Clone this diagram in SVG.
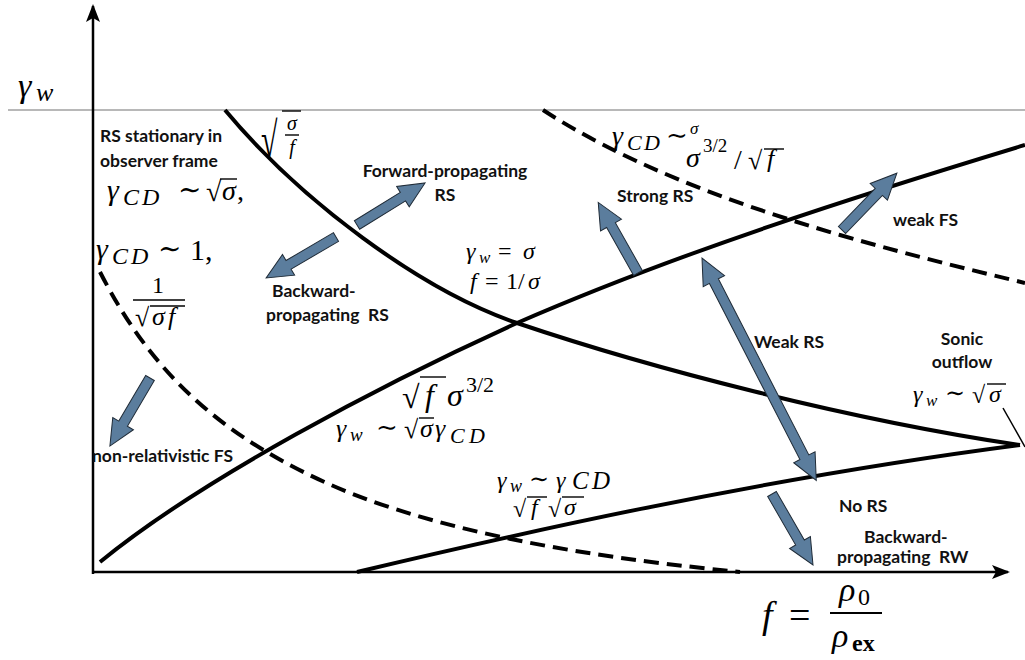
<svg xmlns="http://www.w3.org/2000/svg" width="1025" height="660" viewBox="0 0 1025 660">
<style>
.ax{stroke:#000;stroke-width:2.5;fill:none}
.cv{stroke:#000;stroke-width:4;fill:none}
.ds{stroke:#000;stroke-width:4;fill:none;stroke-dasharray:15 8}
.ba{fill:#5b7d9d;stroke:#1f2b37;stroke-width:1}
.lb{font-family:Lato,"Open Sans",sans-serif;font-weight:700;font-size:17.5px;fill:#111}
.m{font-family:"Liberation Serif","DejaVu Serif",serif;font-style:italic;fill:#000}
.u{font-family:"Liberation Serif","DejaVu Serif",serif;font-style:normal;fill:#000}
.ov{stroke:#000;stroke-width:1.4}
</style>
<defs>
<marker id="ah" markerWidth="18" markerHeight="14" refX="16" refY="7" orient="auto" markerUnits="userSpaceOnUse"><path d="M0,0 L18,7 L0,14 L4,7 Z" fill="#000"/></marker>
</defs>
<rect width="1025" height="660" fill="#fff"/>
<g id="axes">
<line x1="8" y1="110" x2="1025" y2="110" stroke="#a0a0a0" stroke-width="1.5"/>
<path class="ax" d="M93,574 V6" marker-end="url(#ah)"/>
<path class="ax" d="M92,572 H1008" marker-end="url(#ah)"/>
</g>
<g id="connectors">
<path class="cv" d="M225,110 C300,200 420,290 517,323 C650,368 850,420 1020,445"/>
<path class="cv" d="M100,562 C200,480 380,385 517,323 C680,252 860,195 1025,145"/>
<path class="cv" d="M357,572 C500,538 750,480 1020,445"/>
<path class="ds" d="M100,272 C150,370 220,440 350,493 C470,540 620,560 740,572"/>
<path class="ds" d="M543,110 C620,160 720,200 840,235 C920,258 980,272 1025,283"/>
<line x1="1003" y1="408" x2="1025" y2="447" stroke="#000" stroke-width="1.5"/>
</g>
<g id="arrows">
<path class="ba" transform="translate(357,225) rotate(-31.7)" d="M0,-5 H54 V-12 L80,0 L54,12 V5 H0 Z"/>
<path class="ba" transform="translate(336,237) rotate(149.6)" d="M0,-5 H55 V-12 L81,0 L55,12 V5 H0 Z"/>
<path class="ba" transform="translate(150,378) rotate(120.5)" d="M0,-5 H53 V-12 L79,0 L53,12 V5 H0 Z"/>
<path class="ba" transform="translate(638,273) rotate(-119.4)" d="M0,-5 H55 V-12 L81,0 L55,12 V5 H0 Z"/>
<path class="ba" transform="translate(842,230) rotate(-46)" d="M0,-5 H53 V-12 L79,0 L53,12 V5 H0 Z"/>
<path class="ba" transform="translate(702,258) rotate(62.8)" d="M26,-5 H224 V-12 L250,0 L224,12 V5 H26 V12 L0,0 L26,-12 Z"/>
<path class="ba" transform="translate(772,494) rotate(60)" d="M0,-5 H56 V-12 L82,0 L56,12 V5 H0 Z"/>
</g>
<g id="labels">
<text class="lb" x="100" y="142" font-size="18">RS stationary in</text>
<text class="lb" x="100" y="167" font-size="18">observer frame</text>
<text class="lb" x="445" y="177" text-anchor="middle">Forward-propagating</text>
<text class="lb" x="445" y="201" text-anchor="middle">RS</text>
<text class="lb" x="617" y="202">Strong RS</text>
<text class="lb" x="893" y="226">weak FS</text>
<text class="lb" x="272" y="297">Backward-</text>
<text class="lb" x="266" y="321" xml:space="preserve">propagating  RS</text>
<text class="lb" x="754" y="348">Weak RS</text>
<text class="lb" x="962" y="345" text-anchor="middle">Sonic</text>
<text class="lb" x="962" y="368" text-anchor="middle">outflow</text>
<text class="lb" x="92" y="462">non-relativistic FS</text>
<text class="lb" x="839" y="512">No RS</text>
<text class="lb" x="864" y="543">Backward-</text>
<text class="lb" x="837" y="563" xml:space="preserve">propagating  RW</text>
</g>
<g id="math">
<!-- gamma_w axis label -->
<text class="m" x="18" y="97" font-size="34">γ</text><text class="m" x="36" y="101" font-size="26">w</text>
<!-- gamma_CD ~ sqrt(sigma), -->
<text class="m" x="107" y="200" font-size="30">γ</text>
<text class="m" x="123 142" y="205" font-size="24">CD</text>
<text class="u" x="178" y="199" font-size="28">∼</text>
<text class="u" x="206" y="201" font-size="28">√</text>
<text class="m" x="222" y="200" font-size="28">σ</text>
<line class="ov" x1="220" y1="179" x2="237" y2="179"/>
<text class="u" x="237" y="200" font-size="28">,</text>
<!-- sqrt(sigma/f) -->
<text class="u" transform="translate(261,157) scale(0.6,1)" font-size="50">√</text>
<line class="ov" x1="282" y1="111" x2="301" y2="111"/>
<text class="m" x="292" y="130" font-size="20" text-anchor="middle">σ</text>
<line class="ov" x1="285" y1="135" x2="299" y2="135"/>
<text class="m" x="292" y="154" font-size="20" text-anchor="middle">f</text>
<!-- gamma_CD ~ 1, 1/sqrt(sigma f) -->
<text class="m" x="96" y="259" font-size="30">γ</text>
<text class="m" x="112 131" y="264" font-size="24">CD</text>
<text class="u" x="158" y="258" font-size="28">∼</text>
<text class="u" x="190" y="260" font-size="30">1,</text>
<text class="u" x="158" y="293" font-size="24" text-anchor="middle">1</text>
<line class="ov" x1="133" y1="300" x2="185" y2="300"/>
<text class="u" x="135" y="326" font-size="26">√</text>
<line class="ov" x1="150" y1="306" x2="185" y2="306"/>
<text class="m" x="152" y="325" font-size="26">σ</text>
<text class="m" x="168" y="325" font-size="26">f</text>
<!-- gamma_CD ~ sigma, sigma^{3/2}/sqrt f -->
<text class="m" x="612" y="145" font-size="28">γ</text>
<text class="m" x="627 644" y="150" font-size="22">CD</text>
<text class="u" x="666" y="144" font-size="26">∼</text>
<text class="m" x="690" y="134" font-size="17">σ</text>
<text class="m" x="686" y="167" font-size="28">σ</text>
<text class="u" x="703" y="152" font-size="19">3/2</text>
<text class="u" x="734" y="169" font-size="28">/</text>
<text class="u" x="748" y="169" font-size="26">√</text>
<line class="ov" x1="764" y1="149" x2="784" y2="149"/>
<text class="m" x="767" y="167" font-size="26">f</text>
<!-- gamma_w = sigma, f = 1/sigma -->
<text class="m" x="466" y="259" font-size="24">γ</text>
<text class="m" x="479" y="263" font-size="17">w</text>
<text class="u" x="498" y="259" font-size="24">=</text>
<text class="m" x="523" y="259" font-size="24">σ</text>
<text class="m" x="470" y="289" font-size="24">f</text>
<text class="u" x="485" y="289" font-size="24">=</text>
<text class="u" x="506" y="289" font-size="24">1/</text>
<text class="m" x="528" y="289" font-size="24">σ</text>
<!-- sqrt f sigma^{3/2} ; gamma_w ~ sqrt sigma gamma_CD -->
<text class="u" x="402" y="408" font-size="32">√</text>
<line class="ov" x1="420" y1="377" x2="446" y2="377"/>
<text class="m" x="425" y="406" font-size="32">f</text>
<text class="m" x="447" y="406" font-size="32">σ</text>
<text class="u" x="466" y="392" font-size="22">3/2</text>
<text class="m" x="336" y="437" font-size="26">γ</text>
<text class="m" x="350" y="441" font-size="19">w</text>
<text class="u" x="376" y="436" font-size="26">∼</text>
<text class="u" x="404" y="438" font-size="26">√</text>
<line class="ov" x1="419" y1="418" x2="434" y2="418"/>
<text class="m" x="420" y="437" font-size="26">σ</text>
<text class="m" x="435" y="437" font-size="26">γ</text>
<text class="m" x="450 469" y="443" font-size="22">CD</text>
<!-- gamma_w ~ gamma_CD / sqrt f sqrt sigma -->
<text class="m" x="497" y="488" font-size="24">γ</text>
<text class="m" x="510" y="492" font-size="18">w</text>
<text class="u" x="529" y="487" font-size="24">∼</text>
<text class="m" x="556" y="488" font-size="24">γ</text>
<text class="m" x="572 592" y="489" font-size="25">CD</text>
<text class="u" x="513" y="517" font-size="24">√</text>
<line class="ov" x1="527" y1="497" x2="547" y2="497"/>
<text class="m" x="531" y="515" font-size="24">f</text>
<text class="u" x="548" y="517" font-size="24">√</text>
<line class="ov" x1="562" y1="497" x2="584" y2="497"/>
<text class="m" x="564" y="515" font-size="24">σ</text>
<!-- gamma_w ~ sqrt sigma (sonic) -->
<text class="m" x="913" y="402" font-size="24">γ</text>
<text class="m" x="926" y="406" font-size="17">w</text>
<text class="u" x="945" y="401" font-size="24">∼</text>
<text class="u" x="972" y="403" font-size="24">√</text>
<line class="ov" x1="987" y1="384" x2="1006" y2="384"/>
<text class="m" x="989" y="402" font-size="24">σ</text>
<!-- f = rho0 / rho_ex -->
<text class="m" x="762" y="628" font-size="38">f</text>
<text class="u" x="789" y="628" font-size="38">=</text>
<line x1="830" y1="613" x2="882" y2="613" stroke="#000" stroke-width="2"/>
<text class="m" x="839" y="601" font-size="34">ρ</text>
<text class="u" x="858" y="605" font-size="24">0</text>
<text class="m" x="832" y="647" font-size="34">ρ</text>
<text class="u" x="852" y="651" font-size="24" font-weight="700">ex</text>
</g>
</svg>
